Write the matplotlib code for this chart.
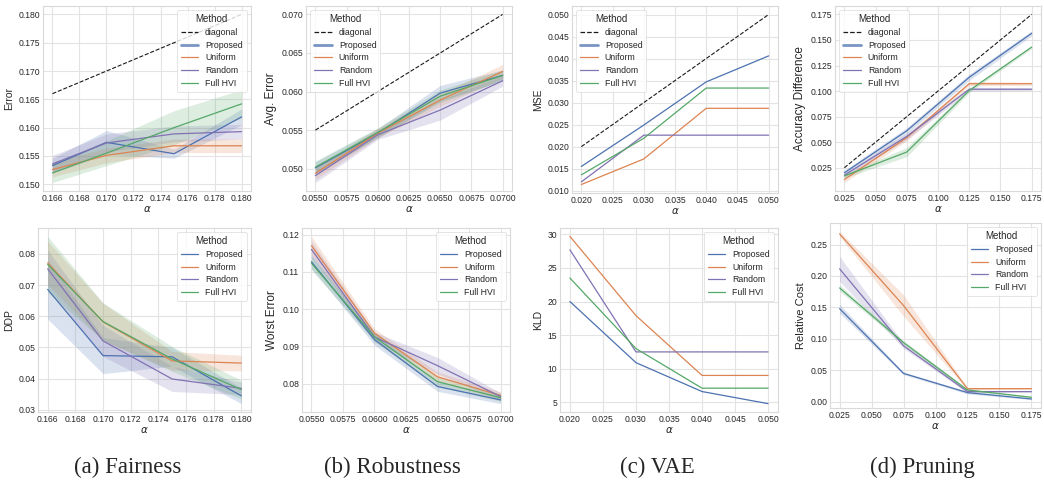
import numpy as np
import matplotlib
matplotlib.use("Agg")
import matplotlib.pyplot as plt
import seaborn as sns

# ---------------- data ----------------
methods = ["Proposed", "Uniform", "Random", "Full HVI"]

# (a) Fairness
fair_x = [0.166, 0.170, 0.175, 0.180]
fair_err = {
    "Proposed": [0.1533, 0.1574, 0.1554, 0.1619],
    "Uniform":  [0.1526, 0.1551, 0.1568, 0.1568],
    "Random":   [0.1536, 0.1573, 0.1589, 0.1593],
    "Full HVI": [0.1520, 0.1555, 0.1600, 0.1642],
}
fair_err_ci = {
    "Proposed": [0.0013, 0.0021, 0.0008, 0.0014],
    "Uniform":  [0.0013, 0.0013, 0.0012, 0.0012],
    "Random":   [0.0015, 0.0016, 0.0014, 0.0013],
    "Full HVI": [0.0017, 0.0022, 0.0030, 0.0025],
}
fair_ddp = {
    "Proposed": [0.0686, 0.0474, 0.0470, 0.0345],
    "Uniform":  [0.0771, 0.0582, 0.0457, 0.0450],
    "Random":   [0.0752, 0.0521, 0.0399, 0.0369],
    "Full HVI": [0.0766, 0.0583, 0.0463, 0.0365],
}
fair_ddp_ci = {
    "Proposed": [0.0095, 0.0058, 0.0030, 0.0025],
    "Uniform":  [0.0070, 0.0060, 0.0030, 0.0025],
    "Random":   [0.0060, 0.0050, 0.0040, 0.0020],
    "Full HVI": [0.0090, 0.0060, 0.0040, 0.0030],
}

# (b) Robustness
rob_x = [0.055, 0.060, 0.065, 0.070]
rob_avg = {
    "Proposed": [0.0501, 0.0546, 0.0598, 0.0621],
    "Uniform":  [0.0494, 0.0546, 0.0589, 0.0626],
    "Random":   [0.0491, 0.0544, 0.0576, 0.0614],
    "Full HVI": [0.0502, 0.0547, 0.0594, 0.0621],
}
rob_avg_ci = {
    "Proposed": [0.0008, 0.0006, 0.0010, 0.0007],
    "Uniform":  [0.0008, 0.0006, 0.0008, 0.0009],
    "Random":   [0.0009, 0.0006, 0.0013, 0.0007],
    "Full HVI": [0.0008, 0.0006, 0.0008, 0.0007],
}
rob_worst = {
    "Proposed": [0.1127, 0.0918, 0.0792, 0.0756],
    "Uniform":  [0.1170, 0.0935, 0.0818, 0.0768],
    "Random":   [0.1160, 0.0925, 0.0848, 0.0765],
    "Full HVI": [0.1123, 0.0925, 0.0805, 0.0762],
}
rob_worst_ci = {
    "Proposed": [0.0018, 0.0015, 0.0013, 0.0010],
    "Uniform":  [0.0025, 0.0012, 0.0013, 0.0010],
    "Random":   [0.0022, 0.0013, 0.0022, 0.0010],
    "Full HVI": [0.0018, 0.0013, 0.0013, 0.0010],
}

# (c) VAE
vae_x = [0.02, 0.03, 0.04, 0.05]
vae_mse = {
    "Proposed": [0.0155, 0.0249, 0.0347, 0.0406],
    "Uniform":  [0.0114, 0.0172, 0.0287, 0.0287],
    "Random":   [0.0120, 0.0226, 0.0226, 0.0226],
    "Full HVI": [0.0136, 0.0219, 0.0333, 0.0333],
}
vae_kld = {
    "Proposed": [20.0, 10.9, 6.6, 4.8],
    "Uniform":  [29.7, 17.9, 9.0, 9.0],
    "Random":   [27.7, 12.5, 12.5, 12.5],
    "Full HVI": [23.5, 13.0, 7.1, 7.1],
}

# (d) Pruning
prun_x = [0.025, 0.075, 0.125, 0.175]
prun_acc = {
    "Proposed": [0.0201, 0.0612, 0.1135, 0.1565],
    "Uniform":  [0.0135, 0.0545, 0.1072, 0.1072],
    "Random":   [0.0178, 0.0557, 0.1018, 0.1018],
    "Full HVI": [0.0170, 0.0404, 0.1005, 0.1430],
}
prun_acc_ci = {
    "Proposed": [0.0025, 0.0030, 0.0030, 0.0025],
    "Uniform":  [0.0030, 0.0030, 0.0020, 0.0015],
    "Random":   [0.0020, 0.0030, 0.0020, 0.0015],
    "Full HVI": [0.0020, 0.0045, 0.0020, 0.0015],
}
prun_cost = {
    "Proposed": [0.148, 0.0449, 0.0143, 0.0042],
    "Uniform":  [0.267, 0.153, 0.0206, 0.0206],
    "Random":   [0.2114, 0.0888, 0.0159, 0.0159],
    "Full HVI": [0.181, 0.094, 0.0185, 0.0069],
}
prun_cost_ci = {
    "Proposed": [0.007, 0.002, 0.002, 0.001],
    "Uniform":  [0.004, 0.017, 0.002, 0.001],
    "Random":   [0.020, 0.004, 0.002, 0.001],
    "Full HVI": [0.005, 0.003, 0.002, 0.001],
}

captions = ["(a) Fairness", "(b) Robustness", "(c) VAE", "(d) Pruning"]
top_ylabels = ["Error", "Avg. Error", "MSE", "Accuracy Difference"]
bot_ylabels = ["DDP", "Worst Error", "KLD", "Relative Cost"]

# ---------------- style ----------------
sns.set_theme(style="whitegrid")
plt.rcParams["font.family"] = ["Liberation Sans", "DejaVu Sans"]
pal = sns.color_palette("deep")
colors = {"Proposed": pal[0], "Uniform": pal[1], "Random": pal[4], "Full HVI": pal[2]}

W, H = 1044, 487
fig = plt.figure(figsize=(W / 100, H / 100), dpi=100)


def add_ax(l, t, r, b):
    return fig.add_axes([l / W, 1 - b / H, (r - l) / W, (b - t) / H])


def panel(ax, x, ys, cis, ylabel, diagonal, loc, tick_fmt=None, top=False,
          ylab_size=7.5):
    if diagonal:
        ax.plot([x[0], x[-1]], [x[0], x[-1]], ls="--", color="k", lw=0.8,
                label="diagonal")
    for m in methods:
        y = np.array(ys[m])
        ax.plot(x, y, color=colors[m], lw=0.9, label=m)
        if cis is not None:
            c = np.array(cis[m])
            ax.fill_between(x, y - c, y + c, color=colors[m], alpha=0.2, lw=0)
    ax.set_xlabel(r"$\alpha$", fontsize=7.5, labelpad=1)
    ax.set_ylabel(ylabel, fontsize=ylab_size, labelpad=3)
    ax.tick_params(labelsize=6.2, pad=2, length=0)
    ax.grid(True, color=".89", lw=0.8)
    for s in ax.spines.values():
        s.set_color(".85")
        s.set_linewidth(0.8)
    if tick_fmt:
        ax.xaxis.set_major_formatter(matplotlib.ticker.FormatStrFormatter(tick_fmt))
    leg = ax.legend(title="Method", loc=loc, fontsize=6.3, title_fontsize=7,
                    frameon=True, borderpad=0.45, labelspacing=0.42,
                    handlelength=2.0, handletextpad=0.8, borderaxespad=0.5)
    leg.get_frame().set_edgecolor(".85")
    leg.get_frame().set_linewidth(0.6)
    for h in leg.legend_handles:
        h.set_linewidth(0.9)
    if top:
        leg.legend_handles[1].set_linewidth(2.0)
        leg.legend_handles[1].set_alpha(0.75)


top_pos = [(43, 6, 251, 191), (306, 6, 512, 191), (572, 6, 778, 193), (835, 6, 1041, 191)]
bot_pos = [(38, 228, 251, 412), (302, 228, 510, 412), (560, 228, 778, 412), (830, 223, 1041, 408)]

ax = add_ax(*top_pos[0])
panel(ax, fair_x, fair_err, fair_err_ci, top_ylabels[0], True, "upper right", "%.3f", top=True)
ax.set_xticks([0.166, 0.168, 0.170, 0.172, 0.174, 0.176, 0.178, 0.180])
ax.yaxis.set_major_formatter(matplotlib.ticker.FormatStrFormatter("%.3f"))

ax = add_ax(*top_pos[1])
panel(ax, rob_x, rob_avg, rob_avg_ci, top_ylabels[1], True, "upper left", "%.4f", top=True,
      ylab_size=8.5)
ax.set_xticks([0.055, 0.0575, 0.060, 0.0625, 0.065, 0.0675, 0.070])
ax.yaxis.set_major_formatter(matplotlib.ticker.FormatStrFormatter("%.3f"))

ax = add_ax(*top_pos[2])
panel(ax, vae_x, vae_mse, None, top_ylabels[2], True, "upper left", "%.3f", top=True)
ax.set_xticks([0.020, 0.025, 0.030, 0.035, 0.040, 0.045, 0.050])
ax.yaxis.set_major_formatter(matplotlib.ticker.FormatStrFormatter("%.3f"))

ax = add_ax(*top_pos[3])
panel(ax, prun_x, prun_acc, prun_acc_ci, top_ylabels[3], True, "upper left", "%.3f", top=True,
      ylab_size=8.5)
ax.set_xticks([0.025, 0.050, 0.075, 0.100, 0.125, 0.150, 0.175])
ax.set_yticks([0.025, 0.050, 0.075, 0.100, 0.125, 0.150, 0.175])
ax.yaxis.set_major_formatter(matplotlib.ticker.FormatStrFormatter("%.3f"))

ax = add_ax(*bot_pos[0])
panel(ax, fair_x, fair_ddp, fair_ddp_ci, bot_ylabels[0], False, "upper right", "%.3f")
ax.set_xticks([0.166, 0.168, 0.170, 0.172, 0.174, 0.176, 0.178, 0.180])
ax.yaxis.set_major_formatter(matplotlib.ticker.FormatStrFormatter("%.2f"))

ax = add_ax(*bot_pos[1])
panel(ax, rob_x, rob_worst, rob_worst_ci, bot_ylabels[1], False, "upper right", "%.4f",
      ylab_size=8.5)
ax.set_xticks([0.055, 0.0575, 0.060, 0.0625, 0.065, 0.0675, 0.070])
ax.yaxis.set_major_formatter(matplotlib.ticker.FormatStrFormatter("%.2f"))

ax = add_ax(*bot_pos[2])
panel(ax, vae_x, vae_kld, None, bot_ylabels[2], False, "upper right", "%.3f")
ax.set_xticks([0.020, 0.025, 0.030, 0.035, 0.040, 0.045, 0.050])

ax = add_ax(*bot_pos[3])
panel(ax, prun_x, prun_cost, prun_cost_ci, bot_ylabels[3], False, "upper right", "%.3f",
      ylab_size=8)
ax.set_xticks([0.025, 0.050, 0.075, 0.100, 0.125, 0.150, 0.175])
ax.yaxis.set_major_formatter(matplotlib.ticker.FormatStrFormatter("%.2f"))

cap_x = [128, 392, 657, 922]
for cx, cap in zip(cap_x, captions):
    fig.text(cx / W, 1 - 467 / H, cap, ha="center", va="center",
             fontsize=16.5, family=["Liberation Serif", "DejaVu Serif"])

fig.savefig("out.png", dpi=100, facecolor="white")
